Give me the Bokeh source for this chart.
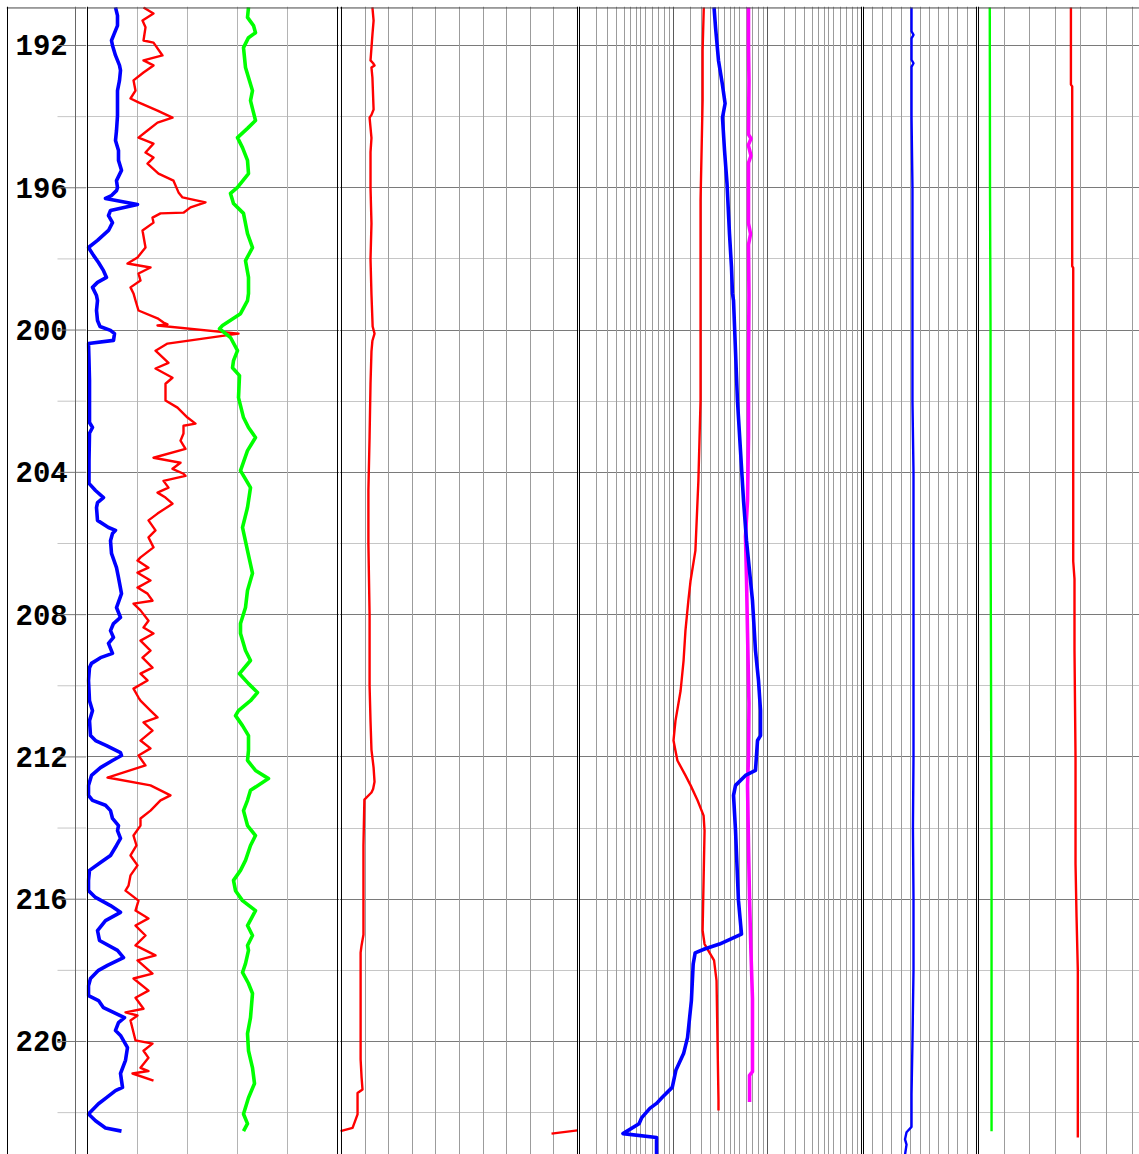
from bokeh.plotting import figure
from bokeh.layouts import row
from bokeh.models import Range1d, Span, Grid, FixedTicker
from bokeh.core.properties import value
from bokeh.embed import file_html
from bokeh.resources import INLINE

# ---------------------------------------------------------------- depth window
DEPTH_TOP = 190.904
DEPTH_BASE = 223.177
TOP_EDGE = 190.945

depth_labels = [192, 196, 200, 204, 208, 212, 216, 220]
minor_depths = [194, 198, 202, 206, 210, 214, 218, 222]

# ---------------------------------------------------------------- track 1 (0-200)
gr_depth = [190.93, 191.16, 191.44, 191.70, 191.86, 192.00, 192.28, 192.56, 192.70, 192.98,
            193.27, 193.55, 193.97, 194.39, 194.67, 194.95, 195.23, 195.51, 195.80, 196.00,
            196.08, 196.22, 196.30, 196.47, 196.64, 196.78, 196.98, 197.20, 197.48, 197.68,
            197.90, 198.10, 198.33, 198.52, 198.66, 198.80, 199.03, 199.17, 199.45, 199.73,
            199.90, 200.01, 200.10, 200.29, 200.38, 200.86, 201.42, 201.98, 202.60, 202.74,
            202.90, 203.67, 204.31, 204.51, 204.71, 204.85, 204.99, 205.35, 205.55, 205.63,
            205.72, 205.92, 206.28, 206.68, 206.96, 207.41, 207.80, 208.08, 208.25, 208.45,
            208.64, 208.81, 209.09, 209.21, 209.37, 209.49, 209.85, 210.42, 210.70, 210.98,
            211.40, 211.54, 211.68, 211.88, 211.96, 212.10, 212.30, 212.52, 212.80, 213.08,
            213.22, 213.36, 213.51, 213.73, 213.93, 214.07, 214.29, 214.49, 214.77, 214.97,
            215.19, 215.47, 215.76, 215.95, 216.18, 216.37, 216.60, 216.88, 217.16, 217.44,
            217.64, 217.86, 218.00, 218.23, 218.43, 218.71, 218.85, 219.05, 219.33, 219.47,
            219.69, 219.83, 220.17, 220.53, 220.90, 221.29, 221.38, 221.58, 221.75, 222.04,
            222.23, 222.43, 222.52]
gr = [22.4, 24.0, 24.0, 21.0, 19.2, 20.0, 22.4, 25.6, 26.4, 25.6,
      24.0, 24.0, 24.0, 23.2, 22.4, 24.8, 24.8, 27.2, 23.2, 24.0,
      23.2, 19.2, 14.4, 40.0, 18.4, 16.8, 20.0, 16.8, 8.0, 0.8,
      4.8, 8.8, 12.8, 15.2, 8.0, 4.0, 7.2, 8.0, 7.2, 8.0,
      10.0, 18.4, 21.6, 20.8, 0.8, 1.2, 1.6, 1.6, 1.6, 4.0,
      1.6, 1.2, 1.2, 6.4, 12.8, 8.0, 7.2, 8.0, 16.8, 22.4,
      20.0, 18.4, 19.2, 23.2, 24.8, 27.2, 23.2, 26.4, 20.8, 18.4,
      20.8, 16.8, 20.0, 10.4, 3.2, 1.6, 0.8, 1.6, 4.0, 1.6,
      2.4, 6.4, 15.2, 26.4, 27.2, 20.0, 10.4, 3.2, 0.8, 0.8,
      4.0, 14.4, 18.4, 20.0, 24.8, 24.0, 26.4, 23.2, 18.4, 10.4,
      1.6, 0.8, 0.8, 6.4, 18.4, 26.4, 14.4, 8.0, 9.6, 24.0,
      28.8, 16.0, 8.8, 2.4, 0.8, 0.8, 8.8, 12.8, 29.6, 24.8,
      22.4, 26.4, 32.0, 30.4, 26.4, 28.0, 22.4, 15.2, 8.8, 0.8,
      6.4, 14.4, 27.2]

sp_depth = [190.93, 191.10, 191.30, 191.49, 191.86, 191.92, 192.28, 192.42, 192.56, 192.76,
            192.98, 193.27, 193.49, 193.60, 193.83, 194.03, 194.17, 194.39, 194.59, 194.76,
            195.01, 195.15, 195.32, 195.60, 195.80, 196.13, 196.27, 196.41, 196.55, 196.70,
            196.72, 196.84, 196.98, 197.20, 197.68, 197.96, 198.13, 198.24, 198.41, 198.61,
            198.80, 198.97, 199.17, 199.45, 199.67, 199.79, 199.84, 199.87, 200.10, 200.38,
            200.58, 200.92, 201.08, 201.34, 201.51, 201.98, 202.18, 202.46, 202.63, 202.69,
            202.91, 203.11, 203.34, 203.59, 203.73, 203.90, 204.04, 204.10, 204.24, 204.43,
            204.57, 204.71, 204.88, 205.16, 205.35, 205.63, 205.83, 206.11, 206.39, 206.48,
            206.68, 206.82, 207.04, 207.24, 207.41, 207.61, 207.69, 207.88, 208.17, 208.36,
            208.53, 208.73, 209.01, 209.21, 209.49, 209.66, 209.85, 210.08, 210.33, 210.42,
            210.70, 210.89, 211.03, 211.26, 211.54, 211.76, 211.96, 212.24, 212.58, 212.80,
            213.08, 213.22, 213.51, 213.73, 213.93, 214.21, 214.49, 214.77, 215.05, 215.33,
            215.62, 215.76, 216.04, 216.32, 216.54, 216.74, 217.02, 217.30, 217.58, 217.72,
            218.09, 218.23, 218.57, 218.77, 219.08, 219.18, 219.27, 219.41, 219.97, 220.06,
            220.26, 220.46, 220.74, 220.83, 220.90, 221.10]
sp = [44.8, 52.8, 44.0, 46.4, 44.8, 52.8, 60.0, 44.8, 52.8, 44.8,
      36.8, 38.4, 34.4, 40.8, 56.0, 68.0, 56.0, 48.0, 40.8, 52.8,
      46.4, 52.8, 48.0, 56.8, 68.8, 72.8, 76.0, 94.4, 82.4, 76.8,
      58.4, 52.0, 52.8, 44.0, 46.4, 40.0, 32.0, 50.4, 40.8, 42.4,
      34.4, 36.8, 38.4, 40.8, 56.0, 60.8, 64.0, 56.0, 120.8, 64.0,
      54.4, 64.8, 54.4, 68.0, 62.4, 62.4, 72.0, 80.0, 86.4, 76.8,
      76.8, 74.4, 78.4, 52.8, 74.4, 68.0, 76.8, 78.4, 60.8, 64.8,
      56.0, 62.4, 68.0, 56.0, 48.8, 54.4, 48.8, 52.8, 42.4, 40.0,
      48.8, 40.0, 50.4, 40.0, 48.0, 52.0, 36.8, 42.4, 48.8, 44.8,
      52.8, 42.4, 50.4, 44.0, 52.0, 42.4, 48.0, 36.8, 40.8, 42.4,
      50.4, 56.0, 44.8, 52.0, 42.4, 50.4, 40.8, 46.4, 16.0, 50.4,
      66.4, 58.4, 50.4, 42.4, 42.4, 36.8, 39.2, 34.4, 40.0, 34.4,
      32.8, 30.4, 40.8, 38.4, 48.8, 38.4, 46.4, 38.4, 54.4, 40.0,
      52.0, 36.8, 48.8, 38.4, 44.8, 30.4, 40.0, 34.4, 38.4, 52.0,
      44.8, 48.8, 42.4, 48.8, 36.0, 52.8]

cal_depth = [190.93, 191.21, 191.44, 191.64, 191.78, 192.06, 192.62, 192.90, 193.27, 193.55,
             194.11, 194.33, 194.59, 194.87, 195.23, 195.60, 195.99, 196.16, 196.44, 196.72,
             197.29, 197.68, 198.05, 198.52, 198.97, 199.17, 199.54, 199.87, 199.96, 200.21,
             200.58, 200.86, 201.06, 201.28, 201.90, 202.46, 202.74, 203.02, 203.39, 203.95,
             204.43, 204.99, 205.55, 206.20, 206.84, 207.32, 207.80, 208.25, 208.53, 209.01,
             209.29, 209.66, 209.94, 210.19, 210.42, 210.70, 210.84, 211.12, 211.40, 211.82,
             212.10, 212.38, 212.61, 212.94, 213.22, 213.51, 213.93, 214.21, 214.49, 214.91,
             215.19, 215.47, 215.76, 216.04, 216.32, 216.74, 217.02, 217.30, 217.44, 217.81,
             218.06, 218.37, 218.65, 219.33, 219.78, 220.26, 220.74, 221.18, 221.58, 222.04,
             222.31, 222.52]
cal = [128.8, 128.0, 132.8, 134.4, 128.8, 124.8, 126.4, 128.8, 132.0, 130.4,
       134.4, 128.0, 120.0, 124.0, 128.0, 128.8, 120.0, 114.4, 116.8, 124.8,
       128.0, 132.0, 126.4, 128.8, 128.8, 128.0, 122.4, 108.0, 105.6, 114.4,
       120.0, 116.8, 116.0, 121.6, 120.8, 124.8, 128.8, 134.4, 128.0, 122.4,
       130.4, 128.0, 124.0, 128.0, 132.0, 128.0, 126.4, 122.4, 122.4, 126.4,
       130.4, 121.6, 128.8, 136.0, 130.4, 120.8, 118.4, 124.0, 128.8, 128.8,
       128.0, 134.4, 144.8, 130.4, 128.0, 124.8, 128.0, 134.4, 130.4, 126.4,
       122.4, 116.8, 118.4, 124.0, 134.4, 128.0, 132.0, 128.0, 128.8, 126.4,
       124.0, 128.8, 132.0, 130.4, 128.0, 128.8, 132.0, 133.6, 128.8, 124.8,
       128.0, 124.8]

# ---------------------------------------------------------------- track 2 (0-100)
dt_depth = [190.93, 191.30, 191.70, 192.42, 192.50, 192.56, 192.62, 192.90, 193.80, 193.95,
            194.03, 194.60, 195.00, 196.00, 197.00, 198.00, 199.00, 199.90, 200.10, 200.30,
            200.60, 201.50, 203.00, 204.50, 206.00, 208.00, 210.00, 211.00, 211.80, 212.30,
            212.70, 212.90, 213.00, 213.20, 214.50, 216.00, 217.00, 217.30, 217.50, 218.50,
            219.50, 220.50, 221.00, 221.35, 221.45, 222.05, 222.43, 222.52]
dt = [13.1, 13.6, 13.1, 12.3, 13.4, 14.0, 12.7, 13.1, 13.6, 12.7,
      11.9, 12.7, 12.3, 12.3, 12.7, 12.3, 12.7, 13.2, 14.0, 13.1,
      12.7, 12.3, 11.9, 11.4, 11.4, 11.9, 11.9, 12.3, 12.7, 13.6,
      14.0, 13.4, 12.7, 9.7, 9.3, 9.3, 9.3, 8.5, 8.1, 8.1,
      8.1, 8.1, 8.5, 8.9, 6.8, 6.8, 4.7, -0.4]
dt_wrap_depth = [222.50, 222.59]
dt_wrap = [100.0, 89.0]

# ---------------------------------------------------------------- track 3 (1-1000, log)
ild_depth = [190.93, 192.14, 193.55, 194.95, 196.36, 199.17, 201.98, 204.23, 206.20, 207.04,
             207.60, 208.45, 209.29, 210.14, 210.98, 211.54, 212.10, 212.52, 212.80, 213.22,
             213.65, 214.07, 215.47, 216.88, 217.26, 217.72, 218.29, 221.66, 221.94]
ild = [21.0, 20.4, 20.4, 19.9, 19.4, 19.4, 19.4, 18.4, 17.1, 15.2,
       14.4, 13.4, 12.8, 11.9, 10.5, 10.0, 11.0, 13.4, 15.2, 18.0,
       20.9, 21.4, 20.9, 20.4, 21.4, 27.0, 28.7, 30.1, 30.1]

ilm_depth = [190.93, 191.49, 192.42, 193.07, 193.63, 194.03, 194.95, 195.88, 197.29, 198.24,
             198.97, 199.17, 201.98, 203.39, 204.80, 205.92, 207.60, 209.01, 209.85, 210.70,
             211.40, 211.54, 212.38, 212.52, 212.80, 213.08, 214.07, 216.04, 216.98, 217.26,
             217.40, 217.51, 217.82, 218.85, 219.89, 220.34, 220.81, 221.29, 221.57, 221.74,
             221.88, 222.14, 222.31, 222.59, 222.70, 223.18]
ilm = [27.0, 28.0, 30.1, 33.0, 35.4, 33.2, 34.9, 37.1, 39.4, 41.4,
       42.4, 43.5, 47.9, 51.6, 55.6, 59.8, 69.2, 74.5, 80.2, 84.3,
       84.3, 78.3, 74.5, 58.3, 45.7, 43.5, 45.7, 49.1, 52.9, 30.9,
       21.4, 17.0, 16.2, 15.5, 14.1, 12.8, 10.6, 9.7, 7.6, 6.6,
       5.6, 4.6, 4.3, 2.9, 6.6, 6.6]

sfl_depth = [190.93, 192.00, 193.00, 194.50, 194.62, 194.80, 195.10, 195.30, 197.00, 197.30,
             197.60, 199.00, 201.00, 203.00, 204.80, 205.80, 207.00, 208.50, 210.50, 212.00,
             212.80, 214.50, 216.00, 217.50, 218.80, 220.40, 220.85, 220.95, 221.70]
sfl = [62.8, 62.8, 63.5, 62.8, 66.7, 62.5, 66.7, 62.8, 62.8, 66.0,
       62.8, 63.5, 62.8, 62.8, 61.3, 58.3, 59.8, 61.3, 63.5, 62.8,
       61.3, 62.8, 64.4, 66.7, 69.2, 69.2, 69.2, 64.4, 64.4]

# ---------------------------------------------------------------- track 4 (0-120)
rhob_depth = [190.93, 191.60, 191.70, 191.80, 192.40, 192.50, 192.60, 193.00, 194.00, 196.00,
              198.00, 200.00, 202.00, 204.00, 206.00, 208.00, 210.00, 212.00, 214.00, 216.00,
              218.00, 220.00, 221.50, 222.40, 222.55, 222.75, 222.90, 223.18]
rhob = [51.0, 51.0, 53.1, 51.0, 51.0, 53.1, 51.0, 51.0, 51.0, 52.0,
        52.0, 52.0, 52.0, 53.1, 53.1, 53.1, 53.1, 53.1, 52.5, 53.1,
        53.1, 52.0, 51.0, 51.0, 45.7, 44.1, 45.7, 44.1]

# ---------------------------------------------------------------- track 5 (0-100)
nphi_depth = [190.93, 196.00, 200.00, 205.00, 210.00, 215.00, 220.00, 222.52]
nphi = [4.4, 4.5, 4.7, 4.7, 4.9, 5.1, 5.1, 5.1]

pef_depth = [190.93, 193.10, 193.15, 198.20, 198.25, 206.50, 207.00, 209.00, 212.00, 215.00,
             216.50, 218.00, 220.00, 222.70]
pef = [36.1, 36.1, 36.6, 36.6, 37.0, 37.0, 37.5, 37.5, 37.9, 37.9,
       38.3, 38.8, 38.8, 38.8]

# ---------------------------------------------------------------- grid tick sets
t1_ticks = [40, 80, 120, 160]
t2_ticks = [10, 20, 30, 40, 50, 60, 70, 80, 90]
t3_decades = [10, 100]
t3_steps = [1.5, 2, 2.5, 3, 3.5, 4, 4.5, 5, 6, 7, 8, 9]
t3_ticks = [d * s for d in [1, 10, 100] for s in t3_steps]
t4_ticks = [10, 20, 30, 40, 50, 60, 70, 80, 90, 100, 110]
t5_ticks = [10, 20, 30, 40, 50, 60]

MAJOR = "#7a7a7a"
MINOR = "#c6c6c6"
VGRID = "#9c9c9c"
DECADE = "#5a5a5a"
BORDER = "black"

THICK = 3.6
THIN = 2.4

y_rng = Range1d(start=DEPTH_BASE, end=DEPTH_TOP)


def make_track(width, x_range, x_axis_type="linear", border_left=0):
    p = figure(width=width, height=1154, x_range=x_range, y_range=y_rng,
               x_axis_type=x_axis_type, x_axis_location=None, y_axis_location=None,
               output_backend="svg", toolbar_location=None,
               min_border_left=border_left, min_border_right=0,
               min_border_top=6, min_border_bottom=0)
    p.outline_line_color = None
    p.xgrid.visible = False
    p.ygrid.visible = False
    p.background_fill_color = "white"
    p.border_fill_color = "white"
    return p


def depth_grid(p):
    p.add_layout(Grid(dimension=1, ticker=FixedTicker(ticks=minor_depths),
                      grid_line_color=MINOR, grid_line_width=1))
    p.add_layout(Grid(dimension=1, ticker=FixedTicker(ticks=depth_labels),
                      grid_line_color=MAJOR, grid_line_width=1))
    p.add_layout(Span(location=TOP_EDGE, dimension="width", line_color="#444444", line_width=1))


def vgrid(p, ticks, color=VGRID):
    p.add_layout(Grid(dimension=0, ticker=FixedTicker(ticks=ticks),
                      grid_line_color=color, grid_line_width=1))


def border(p, loc, color=BORDER):
    p.add_layout(Span(location=loc, dimension="height", line_color=color, line_width=1))


# depth column
p0 = make_track(86, Range1d(0, 80), border_left=6)
p0.add_layout(Span(location=TOP_EDGE, dimension="width", line_color="#444444", line_width=1))
p0.text(x=9, y=depth_labels, text=[str(d) for d in depth_labels],
        text_font=value("Liberation Mono"), text_font_style="bold",
        text_font_size="29px", text_baseline="middle", text_align="left",
        text_color="black")
p0.segment(x0=51, x1=80, y0=minor_depths, y1=minor_depths, line_color=MINOR, line_width=1)
p0.segment(x0=51, x1=80, y0=depth_labels, y1=depth_labels, line_color=MAJOR, line_width=1)
border(p0, 1)
border(p0, 69, "#666666")

# track 1
p1 = make_track(253, Range1d(-0.8, 201.6))
depth_grid(p1)
vgrid(p1, t1_ticks, "#b4b4b4")
border(p1, 0)
border(p1, 200)
p1.line(gr, gr_depth, line_color="#0000ff", line_width=THICK, line_join="round")
p1.line(sp, sp_depth, line_color="#ff0000", line_width=THIN, line_join="round")
p1.line(cal, cal_depth, line_color="#00ff00", line_width=THICK, line_join="round")

# track 2
p2 = make_track(239, Range1d(-0.847, 100.424))
depth_grid(p2)
vgrid(p2, t2_ticks)
border(p2, 0)
border(p2, 100)
p2.line(dt, dt_depth, line_color="#ff0000", line_width=THIN, line_join="round")
p2.line(dt_wrap, dt_wrap_depth, line_color="#ff0000", line_width=THIN)

# track 3 (logarithmic)
p3 = make_track(284, Range1d(0.9758, 1024.8), x_axis_type="log")
depth_grid(p3)
vgrid(p3, t3_ticks)
vgrid(p3, t3_decades, DECADE)
border(p3, 1)
border(p3, 1000)
p3.line(ild, ild_depth, line_color="#ff0000", line_width=THIN, line_join="round")
p3.line(sfl, sfl_depth, line_color="#ff00ff", line_width=THICK, line_join="round")
p3.line(ilm, ilm_depth, line_color="#0000ff", line_width=THICK, line_join="round")

# track 4
p4 = make_track(115, Range1d(-1.062, 121.062))
depth_grid(p4)
vgrid(p4, t4_ticks)
border(p4, 0)
border(p4, 120)
p4.line(rhob, rhob_depth, line_color="#0000ff", line_width=THIN, line_join="round")

# track 5
p5 = make_track(162, Range1d(-0.39, 62.89))
depth_grid(p5)
vgrid(p5, t5_ticks)
border(p5, 0)
p5.line(nphi, nphi_depth, line_color="#00ff00", line_width=THIN, line_join="round")
p5.line(pef, pef_depth, line_color="#ff0000", line_width=THIN, line_join="round")

layout = row(p0, p1, p2, p3, p4, p5, spacing=0)

with open("out.html", "w") as f:
    f.write(file_html(layout, INLINE))
